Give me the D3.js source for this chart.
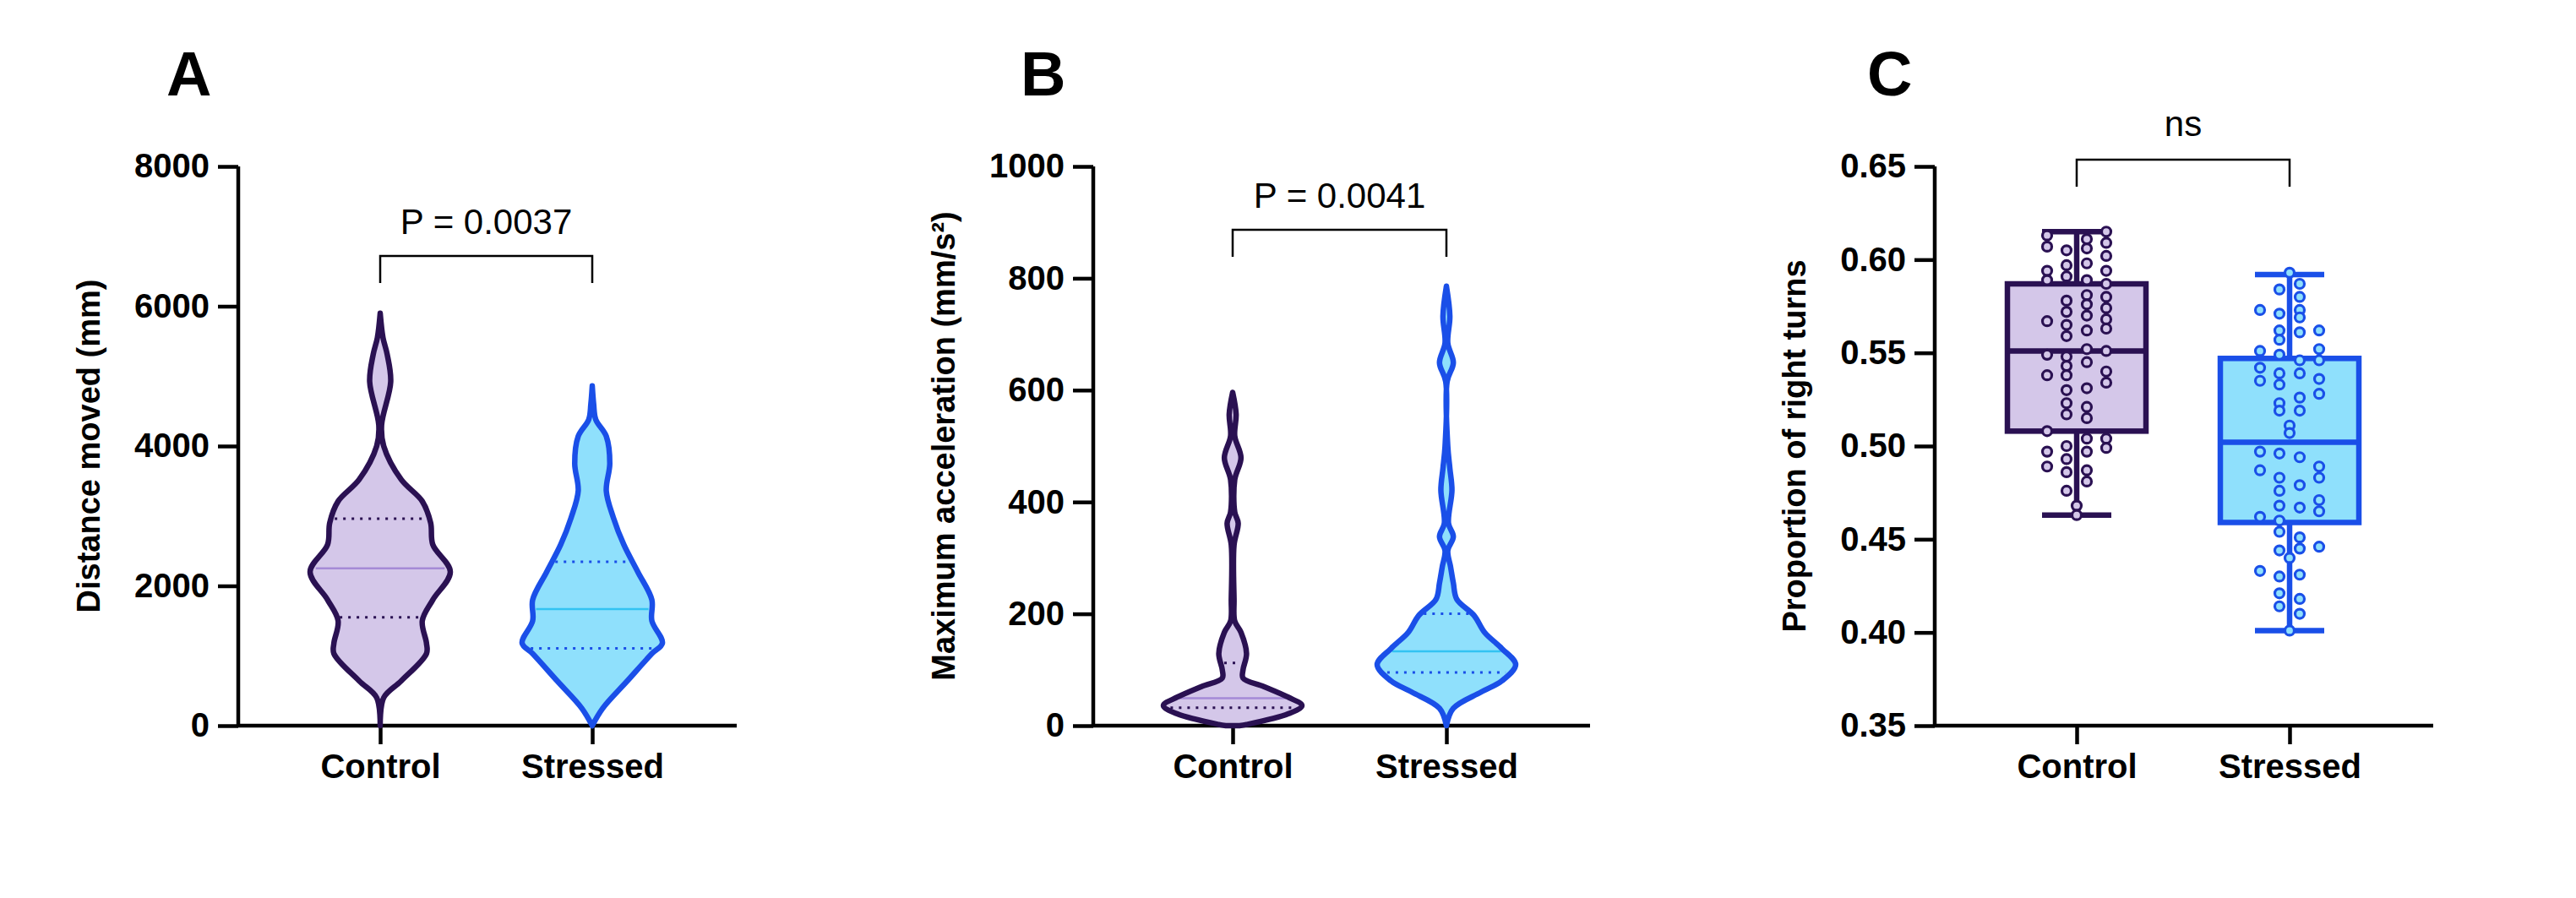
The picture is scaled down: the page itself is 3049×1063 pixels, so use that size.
<!DOCTYPE html>
<html><head><meta charset="utf-8">
<script src="https://cdn.jsdelivr.net/npm/d3@7"></script>
<style>body{margin:0;background:#fff}text{font-family:"Liberation Sans",Arial,sans-serif}</style>
</head><body><svg id="c" width="3049" height="1063"></svg>
<script>
const categories = ["Control","Stressed"];
// Panel A: violin density profiles [value, relative width]
const distCtrl = [[0,0],[400,0.05],[640,0.3],[1030,0.66],[1180,0.66],[1500,0.6],[1800,0.75],[2200,1.0],[2590,0.75],[2900,0.72],[3210,0.6],[3520,0.3],[4000,0.05],[4300,0.02],[4920,0.15],[5310,0.1],[5550,0.04],[5900,0]];
const distStr = [[0,0],[250,0.15],[640,0.5],[1030,0.85],[1180,1.0],[1500,0.85],[1800,0.85],[2200,0.65],[2590,0.45],[2980,0.3],[3360,0.2],[3750,0.25],[4140,0.2],[4380,0.05],[4600,0.02],[4860,0]];
const distQuart = [[1550,2251,2960],[1106,1667,2345]];
// Panel B
const accCtrl = [[0,0.1],[2,0.2],[21,0.8],[36,1.0],[51,0.8],[70,0.45],[85,0.15],[100,0.15],[129,0.2],[167,0.12],[187,0.03],[226,0.02],[323,0.02],[362,0.08],[382,0.03],[440,0.03],[479,0.12],[518,0.03],[557,0.05],[596,0]];
const accStr = [[0,0],[31,0.1],[60,0.5],[80,0.8],[109,1.0],[138,0.8],[167,0.55],[197,0.4],[226,0.15],[255,0.1],[284,0.06],[313,0.02],[338,0.1],[362,0.03],[421,0.08],[460,0.05],[499,0.02],[615,0.01],[649,0.1],[684,0.02],[732,0.05],[786,0]];
const accQuart = [[32,49,112],[95,133,200]];
// Panel C: box stats [min,q1,median,q3,max]
const turnBox = [[0.463,0.508,0.551,0.587,0.615],[0.401,0.459,0.502,0.547,0.592]];
// points per column
const turnCtrlCols = [
 [0.613,0.607,0.594,0.589,0.567,0.549,0.538,0.508,0.497,0.489],
 [0.605,0.597,0.591,0.578,0.572,0.565,0.559,0.548,0.543,0.538,0.530,0.523,0.517,0.500,0.493,0.486,0.476],
 [0.468,0.463],
 [0.611,0.606,0.598,0.589,0.581,0.576,0.570,0.562,0.552,0.545,0.531,0.521,0.515,0.504,0.497,0.487,0.481],
 [0.615,0.609,0.602,0.594,0.587,0.580,0.574,0.568,0.563,0.551,0.540,0.534,0.504,0.499]];
const turnStrCols = [
 [0.573,0.551,0.542,0.535,0.497,0.487,0.462,0.433],
 [0.584,0.571,0.562,0.557,0.549,0.539,0.533,0.523,0.519,0.496,0.483,0.476,0.468,0.460,0.454,0.444,0.430,0.421,0.414],
 [0.593,0.511,0.507,0.440,0.401],
 [0.587,0.580,0.573,0.569,0.561,0.546,0.539,0.526,0.519,0.494,0.479,0.467,0.451,0.445,0.431,0.418,0.410],
 [0.562,0.552,0.546,0.536,0.528,0.489,0.483,0.471,0.465,0.446]];
const ticksA=[0,2000,4000,6000,8000], ticksB=[0,200,400,600,800,1000], ticksC=[0.35,0.40,0.45,0.50,0.55,0.60,0.65];

const stroke=["#2a1152","#1a4fe8"], fill=["#d4c7e9","#8fe0fc"], medC=["#a58ad6","#33c3f2"];
const svg=d3.select("#c");
const yTop=197, yBot=859;

function panel(o){
  const g=svg.append("g");
  const y=d3.scaleLinear().domain(o.domain).range([yBot,yTop]);
  const x=d3.scalePoint().domain(categories).range([o.c0,o.c1]);
  const ya=g.append("g").attr("transform",`translate(${o.ax},0)`).call(d3.axisLeft(y).tickValues(o.ticks).tickSize(24).tickPadding(10).tickFormat(o.fmt));
  ya.select(".domain").attr("stroke","#000").attr("stroke-width",4.5).attr("d",`M0,${yBot}V${yTop}`);
  ya.selectAll(".tick line").attr("stroke","#000").attr("stroke-width",4.5);
  ya.selectAll("text").attr("font-size",40).attr("font-weight","bold").attr("fill","#000").attr("font-family","Liberation Sans, Arial");
  const xa=g.append("g").attr("transform",`translate(0,${yBot})`).call(d3.axisBottom(x).tickSize(22).tickPadding(12));
  xa.select(".domain").attr("stroke","#000").attr("stroke-width",4.5).attr("d",`M${o.ax},0H${o.xr}`);
  xa.selectAll(".tick line").attr("stroke","#000").attr("stroke-width",4.5);
  xa.selectAll("text").attr("font-size",40).attr("font-weight","bold").attr("fill","#000").attr("font-family","Liberation Sans, Arial");
  g.append("text").attr("transform",`translate(${o.tx},${(yTop+yBot)/2}) rotate(-90)`).attr("text-anchor","middle")
   .attr("font-size",38).attr("font-weight","bold").text(o.title);
  g.append("text").attr("x",o.lx).attr("y",113).attr("font-size",74).attr("font-weight","bold").text(o.letter);
  const bx0=x(categories[0]), bx1=x(categories[1]);
  g.append("path").attr("d",`M${bx0},${o.by+32}V${o.by}H${bx1}V${o.by+32}`).attr("fill","none").attr("stroke","#000").attr("stroke-width",2.5);
  g.append("text").attr("x",(bx0+bx1)/2).attr("y",o.ty).attr("text-anchor","middle").attr("font-size",42).text(o.ptext);
  return {g,x,y};
}

function violins(p,profiles,quart,hw){
  profiles.forEach((prof,i)=>{
    const cx=p.x(categories[i]);
    const area=d3.area().curve(d3.curveCatmullRom).y(d=>p.y(d[0])).x0(d=>cx-d[1]*hw).x1(d=>cx+d[1]*hw);
    const wAt=v=>{for(let k=1;k<prof.length;k++){if(prof[k][0]>=v){const a=prof[k-1],b=prof[k];return a[1]+(b[1]-a[1])*(v-a[0])/(b[0]-a[0]);}}return 0;};
    p.g.append("path").attr("d",area(prof)).attr("fill",fill[i]).attr("stroke","none");
    quart[i].forEach((q,j)=>{
      const w=wAt(q)*hw-4;
      p.g.append("line").attr("x1",cx-w).attr("x2",cx+w).attr("y1",p.y(q)).attr("y2",p.y(q))
       .attr("stroke",j==1?medC[i]:stroke[i]).attr("stroke-width",j==1?2.5:3).attr("stroke-dasharray",j==1?null:"3,7");
    });
    p.g.append("path").attr("d",area(prof)).attr("fill","none").attr("stroke",stroke[i]).attr("stroke-width",6.5).attr("stroke-linejoin","round");
  });
}

const pA=panel({domain:[0,8000],ticks:ticksA,fmt:d3.format("d"),ax:282,xr:872,c0:450,c1:701,tx:118,lx:197,letter:"A",title:"Distance moved (mm)",by:303,ty:277,ptext:"P = 0.0037"});
violins(pA,[distCtrl,distStr],distQuart,83);
const pB=panel({domain:[0,1000],ticks:ticksB,fmt:d3.format("d"),ax:1294,xr:1882,c0:1459,c1:1712,tx:1130,lx:1208,letter:"B",title:"Maximum acceleration (mm/s²)",by:272,ty:246,ptext:"P = 0.0041"});
violins(pB,[accCtrl,accStr],accQuart,82);
const pC=panel({domain:[0.35,0.65],ticks:ticksC,fmt:d3.format(".2f"),ax:2290,xr:2880,c0:2458,c1:2710,tx:2137,lx:2210,letter:"C",title:"Proportion of right turns",by:189,ty:161,ptext:"ns"});
const colOff=[-35,-12,0,12,35];
turnBox.forEach((b,i)=>{
  const cx=pC.x(categories[i]), y=pC.y;
  pC.g.append("rect").attr("x",cx-82).attr("width",164).attr("y",y(b[3])).attr("height",y(b[1])-y(b[3])).attr("fill",fill[i]).attr("stroke",stroke[i]).attr("stroke-width",6.5);
  [[b[0],b[1]],[b[3],b[4]]].forEach(s=>pC.g.append("line").attr("x1",cx).attr("x2",cx).attr("y1",y(s[0])).attr("y2",y(s[1])).attr("stroke",stroke[i]).attr("stroke-width",6.5));
  [b[0],b[4]].forEach(v=>pC.g.append("line").attr("x1",cx-41).attr("x2",cx+41).attr("y1",y(v)).attr("y2",y(v)).attr("stroke",stroke[i]).attr("stroke-width",6.5));
  pC.g.append("line").attr("x1",cx-82).attr("x2",cx+82).attr("y1",y(b[2])).attr("y2",y(b[2])).attr("stroke",stroke[i]).attr("stroke-width",6.5);
  const cols=i==0?turnCtrlCols:turnStrCols;
  cols.forEach((col,k)=>col.forEach(v=>pC.g.append("circle").attr("cx",cx+colOff[k]).attr("cy",y(v)).attr("r",5.5)
     .attr("fill",fill[i]).attr("stroke",stroke[i]).attr("stroke-width",3.2)));
});
</script></body></html>
